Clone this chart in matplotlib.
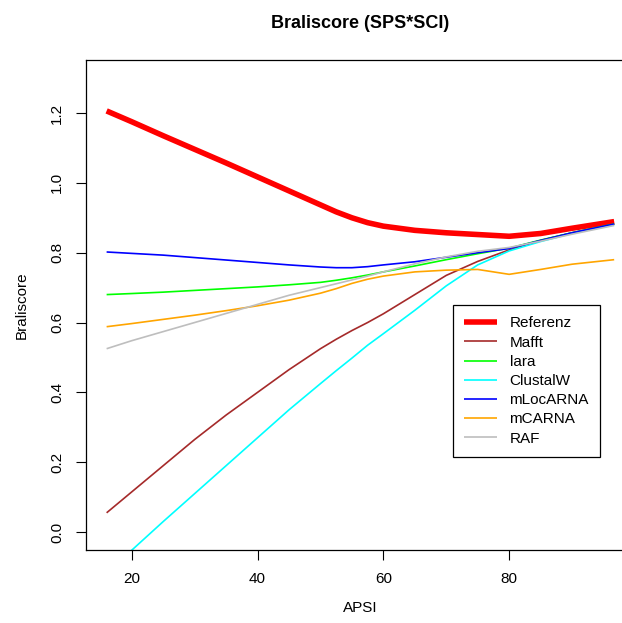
import matplotlib
matplotlib.use("Agg")
from matplotlib import pyplot as plt

plt.rcParams["font.family"] = ["Liberation Sans", "DejaVu Sans"]

apsi = [16, 20, 25, 30, 35, 40, 45, 50, 52.5, 55, 57.5, 60, 65, 70, 75, 80, 85, 90, 96.7]

referenz = [1.206, 1.175, 1.135, 1.096, 1.057, 1.017, 0.977, 0.937, 0.917, 0.900,
            0.886, 0.876, 0.864, 0.857, 0.852, 0.847, 0.855, 0.870, 0.889]
mafft = [0.055, 0.115, 0.19, 0.265, 0.335, 0.40, 0.465, 0.525, 0.552, 0.577,
         0.600, 0.625, 0.68, 0.735, 0.775, 0.808, 0.835, 0.857, 0.882]
lara = [0.680, 0.683, 0.687, 0.692, 0.697, 0.702, 0.708, 0.715, 0.721, 0.728,
        0.736, 0.745, 0.762, 0.780, 0.797, 0.813, 0.836, 0.857, 0.882]
clustalw = [-0.115, -0.052, 0.03, 0.11, 0.19, 0.27, 0.35, 0.425, 0.462, 0.498,
            0.535, 0.568, 0.635, 0.705, 0.765, 0.805, 0.832, 0.855, 0.880]
mlocarna = [0.802, 0.798, 0.793, 0.786, 0.779, 0.772, 0.765, 0.759, 0.757, 0.757,
            0.760, 0.765, 0.774, 0.787, 0.800, 0.812, 0.835, 0.857, 0.882]
mcarna = [0.588, 0.597, 0.609, 0.621, 0.634, 0.648, 0.664, 0.684, 0.697, 0.712,
          0.724, 0.733, 0.745, 0.750, 0.752, 0.738, 0.752, 0.767, 0.780]
raf = [0.525, 0.548, 0.574, 0.600, 0.626, 0.652, 0.678, 0.700, 0.711, 0.722,
       0.733, 0.745, 0.768, 0.788, 0.804, 0.815, 0.833, 0.853, 0.878]

series = [
    ("Referenz", referenz, "#FF0000", 4.0),
    ("Mafft", mafft, "#A52A2A", 1.2),
    ("lara", lara, "#00FF00", 1.2),
    ("ClustalW", clustalw, "#00FFFF", 1.2),
    ("mLocARNA", mlocarna, "#0000FF", 1.2),
    ("mCARNA", mcarna, "#FFA500", 1.2),
    ("RAF", raf, "#BEBEBE", 1.2),
]

W, H = 622, 623
fig = plt.figure(figsize=(W / 100, H / 100), dpi=100)
left, right, top, bottom = 86.3, 634.5, 60.3, 550
ax = fig.add_axes([left / W, 1 - bottom / H, (right - left) / W, (bottom - top) / H])

for name, vals, color, lw in series:
    ax.plot(apsi, vals, color=color, lw=lw, label=name, solid_capstyle="butt")

ax.set_xlim(12.77, 99.93)
ax.set_ylim(-0.0515, 1.351)
ax.set_xticks([20, 40, 60, 80])
ax.set_yticks([0.0, 0.2, 0.4, 0.6, 0.8, 1.0, 1.2])
ax.set_yticklabels(["0.0", "0.2", "0.4", "0.6", "0.8", "1.0", "1.2"],
                   rotation=90, va="center")
ax.tick_params(direction="out", length=7, width=0.8, labelsize=11, pad=9)
for sp in ax.spines.values():
    sp.set_linewidth(0.9)

ax.set_title("Braliscore (SPS*SCI)", fontsize=13, fontweight="bold", pad=23)
ax.set_xlabel("APSI", fontsize=11, labelpad=11)
ax.set_ylabel("Braliscore", fontsize=11, labelpad=15)

ax.legend(loc="upper left", bbox_to_anchor=(453 / W, 1 - 305 / H),
          bbox_transform=fig.transFigure, borderaxespad=0, fancybox=False,
          edgecolor="black", framealpha=1, fontsize=11, handlelength=2.1,
          handletextpad=0.85, borderpad=0.75, labelspacing=0.34)
ax.get_legend().get_frame().set_linewidth(0.9)

fig.savefig("out.png", dpi=100)
